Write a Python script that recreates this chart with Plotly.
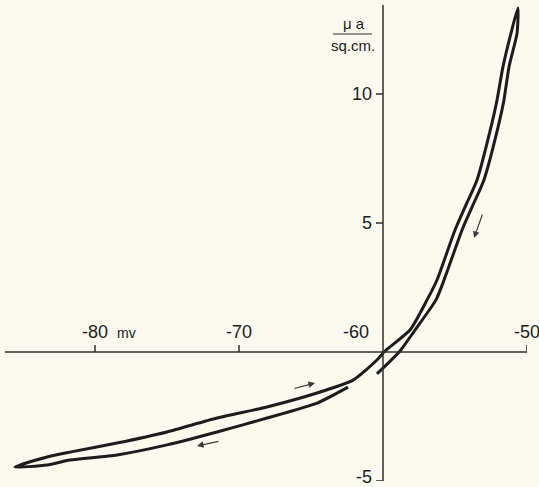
import plotly.graph_objects as go

# Membrane potential (mV) and current density (µa / sq.cm.) along the recorded loop
voltage_mv = [
    -62.43, -64.58, -68.06, -71.53, -75.00, -78.47, -81.74, -83.33, -85.56,
    -83.33, -81.74, -78.47, -75.00, -71.53, -68.06, -64.58, -62.08, -60.42, -59.86,
    -58.13, -56.94, -56.25, -55.00, -54.24, -53.47, -52.43, -52.08, -51.67, -51.11, -50.63,
    -50.69, -51.25, -51.60, -51.94, -52.99, -53.75, -54.51, -55.76, -56.32, -57.78, -58.82, -60.42,
]
current_ua = [
    -1.36, -1.98, -2.56, -3.10, -3.60, -3.99, -4.19, -4.38, -4.46,
    -4.07, -3.88, -3.53, -3.10, -2.56, -2.13, -1.59, -1.09, -0.31, 0.04,
    0.85, 2.02, 2.79, 4.73, 5.70, 6.67, 8.88, 9.77, 11.05, 12.36, 13.33,
    12.36, 11.05, 9.77, 8.88, 6.67, 5.70, 4.73, 2.79, 2.02, 0.85, 0.04, -0.85,
]

x_ticks = [-80, -70, -60, -50]
x_tick_labels = ["-80", "-70", "-60", "-50"]
y_ticks = [10, 5, -5]
y_tick_labels = ["10", "5", "-5"]

# direction arrows: (tail_x, tail_y, head_x, head_y)
arrow_tail_x = [-66.25, -71.32, -53.06]
arrow_tail_y = [-1.43, -3.45, 5.39]
arrow_head_x = [-64.72, -72.92, -53.68]
arrow_head_y = [-1.20, -3.64, 4.42]

X_MIN, X_MAX = -86.25, -50.0
Y_MIN, Y_MAX = -5.0, 13.45
X_ORIGIN, Y_ORIGIN = -60.0, 0.0

BG = "#fbf9ef"
INK = "#1c1c1c"
AXIS = "#2e2e2e"
FONT = "Liberation Sans, Arial, sans-serif"

fig = go.Figure()
fig.add_trace(go.Scatter(
    x=voltage_mv, y=current_ua, mode="lines",
    line=dict(color=INK, width=3, shape="spline", smoothing=0.6),
    hoverinfo="skip", showlegend=False,
))

shapes = []
# axis lines
shapes.append(dict(type="line", xref="x", yref="y", x0=X_MIN, x1=X_MAX, y0=Y_ORIGIN, y1=Y_ORIGIN,
                   line=dict(color=AXIS, width=1.5)))
shapes.append(dict(type="line", xref="x", yref="y", x0=X_ORIGIN, x1=X_ORIGIN, y0=Y_MIN, y1=Y_MAX,
                   line=dict(color=AXIS, width=1.5)))
# x tick marks (pointing up)
for xv in x_ticks:
    if xv == X_ORIGIN:
        continue
    shapes.append(dict(type="line", xref="x", yref="y", ysizemode="pixel", yanchor=Y_ORIGIN,
                       x0=xv, x1=xv, y0=0, y1=7, line=dict(color=AXIS, width=1.5)))
# y tick marks (pointing left)
for yv in y_ticks:
    shapes.append(dict(type="line", xref="x", yref="y", xsizemode="pixel", xanchor=X_ORIGIN,
                       x0=-7, x1=0, y0=yv, y1=yv, line=dict(color=AXIS, width=1.5)))
# fraction bar of unit label
shapes.append(dict(type="line", xref="x", yref="y", xsizemode="pixel", xanchor=X_ORIGIN,
                   ysizemode="pixel", yanchor=Y_MAX, x0=-50, x1=-11, y0=-29, y1=-29,
                   line=dict(color=AXIS, width=1.2)))

annotations = []
for xv, lab in zip(x_ticks, x_tick_labels):
    shift = -27 if xv == X_ORIGIN else 0
    annotations.append(dict(x=xv, y=Y_ORIGIN, xref="x", yref="y", text=lab, showarrow=False,
                            xanchor="center", yanchor="bottom", xshift=shift, yshift=8,
                            font=dict(family=FONT, size=18, color=INK)))
annotations.append(dict(x=x_ticks[0], y=Y_ORIGIN, xref="x", yref="y", text="mv", showarrow=False,
                        xanchor="left", yanchor="bottom", xshift=20, yshift=9,
                        font=dict(family=FONT, size=14, color=INK)))
for yv, lab in zip(y_ticks, y_tick_labels):
    ys = 4 if yv == y_ticks[-1] else 0
    annotations.append(dict(x=X_ORIGIN, y=yv, xref="x", yref="y", text=lab, showarrow=False,
                            xanchor="right", yanchor="middle", xshift=-9, yshift=ys,
                            font=dict(family=FONT, size=18, color=INK)))
annotations.append(dict(x=X_ORIGIN, y=Y_MAX, xref="x", yref="y", text="μ a", showarrow=False,
                        xanchor="center", yanchor="bottom", xshift=-29, yshift=-29,
                        font=dict(family=FONT, size=15, color=INK)))
annotations.append(dict(x=X_ORIGIN, y=Y_MAX, xref="x", yref="y", text="sq.cm.", showarrow=False,
                        xanchor="center", yanchor="top", xshift=-30, yshift=-30,
                        font=dict(family=FONT, size=15, color=INK)))
for tx, ty, hx, hy in zip(arrow_tail_x, arrow_tail_y, arrow_head_x, arrow_head_y):
    annotations.append(dict(x=hx, y=hy, ax=tx, ay=ty, xref="x", yref="y", axref="x", ayref="y",
                            text="", showarrow=True, arrowhead=2, arrowsize=1.1, arrowwidth=1.2,
                            arrowcolor="#3a3a3a"))

fig.update_layout(
    width=539, height=487,
    margin=dict(l=5, r=12, t=5, b=6),
    paper_bgcolor=BG, plot_bgcolor=BG,
    xaxis=dict(range=[X_MIN, X_MAX], visible=False, fixedrange=True),
    yaxis=dict(range=[Y_MIN, Y_MAX], visible=False, fixedrange=True),
    shapes=shapes, annotations=annotations, showlegend=False,
)

fig.write_html(
    "out.html",
    config={"displayModeBar": False},
    post_script="document.body.style.margin='0';document.body.style.background='%s';" % BG,
)
